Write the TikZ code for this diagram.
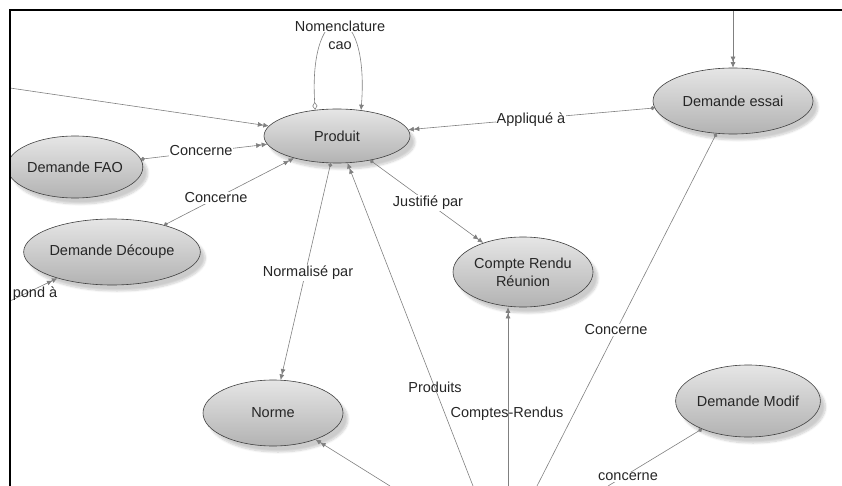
\documentclass[tikz,border=0pt]{standalone}
\usepackage{fontspec}
\setmainfont{Liberation Sans}
\usetikzlibrary{shapes.geometric,arrows.meta,shadows.blur}
\begin{document}
\begin{tikzpicture}[x=1pt,y=-1pt,
  ent/.style={ellipse, draw=black!75, line width=0.6pt, top color=black!10, bottom color=black!30,
    inner sep=0pt, align=center, text=black!85, font=\fontsize{14.5}{18}\selectfont,
    blur shadow={shadow xshift=5pt, shadow yshift=-6pt, shadow blur steps=8, shadow opacity=20}},
  rel/.style={draw=black!50, line width=0.6pt},
  lbl/.style={font=\fontsize{14.5}{18}\selectfont, inner sep=1pt, text=black!85},
  wlbl/.style={lbl, fill=white},
  arr/.style={-{Latex[length=5.5pt,width=5pt]Latex[length=5.5pt,width=5pt]}},
  dotarr/.style={{Circle[length=4pt]}-{Latex[length=5.5pt,width=5pt]Latex[length=5.5pt,width=5pt]}},
  dotend/.style={-{Circle[length=4pt]}}
]
\useasboundingbox (0,0) rectangle (842,486);
\begin{scope}
\clip (10,10) rectangle (842,486);
% entities
\node[ent, minimum width=146pt, minimum height=54pt] (prod) at (337,136) {Produit};
\node[ent, minimum width=126pt, minimum height=62pt] (fao) at (75,167) {Demande FAO};
\node[ent, minimum width=140pt, minimum height=66pt] (dec) at (112,252) {Demande Découpe};
\node[ent, minimum width=160pt, minimum height=66pt] (essai) at (733,101) {Demande essai};
\node[ent, minimum width=140pt, minimum height=70pt] (crr) at (523,272) {Compte Rendu\\Réunion};
\node[ent, minimum width=140pt, minimum height=66pt] (norme) at (273,413) {Norme};
\node[ent, minimum width=120pt, minimum height=72pt] (modif) at (748,401) {Demande Modif};
% free ends
\coordinate (tl) at (10,88);
\coordinate (pl) at (10,301);
\coordinate (te) at (733,10);
\coordinate (bp) at (473,486);
\coordinate (bc) at (508,486);
\coordinate (bs) at (537,486);
\coordinate (bn) at (390,486);
\coordinate (bm) at (608,486);
% connectors
\draw[rel,arr] (tl) -- (prod);
\draw[rel,dotarr] (fao) -- (prod);
\draw[rel,dotarr] (dec) -- (prod);
\draw[rel,arr] (pl) -- (dec);
\draw[rel,{Diamond[open,length=8pt,width=5pt]}-{Latex[length=5.5pt,width=5pt]}] (prod.130) .. controls (308,-5) and (370,-5) .. (prod.47);
\draw[rel,dotarr] (essai) -- (prod);
\draw[rel,arr] (te) -- (essai);
\draw[rel,dotarr] (prod) -- (crr);
\draw[rel,dotarr] (prod) -- (norme);
\draw[rel,arr] (bp) -- (prod);
\draw[rel,arr] (bc) -- (bc |- crr.south);
\draw[rel,dotend] (bs) -- (essai);
\draw[rel,arr] (bn) -- (norme);
\draw[rel,dotend] (bm) -- (modif);
% labels
\node[wlbl] (l1) at (201,151) {Concerne};
\node[wlbl] (l2) at (216,198) {Concerne};
\node[lbl] (l3) at (35,294) {pond à};
\node[wlbl] (l4a) at (340,26) {Nomenclature};
\node[wlbl] (l4b) at (340,46) {cao};
\node[wlbl] (l5) at (531,120) {Appliqué à};
\node[wlbl] (l6) at (428,203) {Justifié par};
\node[wlbl] (l7) at (308,273) {Normalisé par};
\node[lbl] (l8) at (435,387) {Produits};
\node[lbl] (l9) at (507,414) {Comptes-Rendus};
\node[wlbl] (l10) at (616,330) {Concerne};
\node[wlbl] (l11) at (628,477) {concerne};
\end{scope}
% frame
\draw[line width=2pt] (10,486) -- (10,10) -- (842,10);
\end{tikzpicture}
\end{document}
